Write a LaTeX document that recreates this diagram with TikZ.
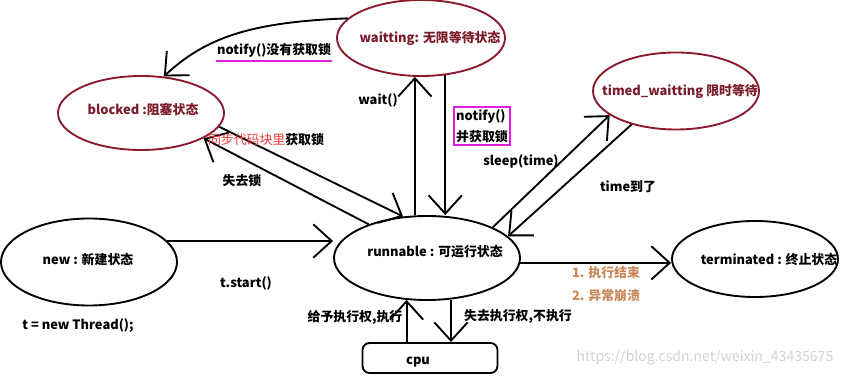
\documentclass[tikz,border=0pt]{standalone}
\usepackage{fontspec}
\setmainfont{Noto Sans CJK SC}
\usepackage{tikz}
\usetikzlibrary{positioning,shapes.geometric,arrows.meta,calc}
\definecolor{statered}{HTML}{8A1A2C}
\definecolor{nametext}{HTML}{7A1C2C}
\definecolor{hilite}{HTML}{E020E0}
\definecolor{synctext}{HTML}{F03A3A}
\definecolor{endtext}{HTML}{C8885A}
\tikzset{
  state/.style={ellipse,draw=black,line width=1.6pt,inner sep=0pt,fill=white},
  waitstate/.style={state,draw=statered},
  statename/.style={font=\fontsize{11}{13}\selectfont\bfseries,text=black,inner sep=0pt},
  waitname/.style={statename,text=nametext},
  lbl/.style={font=\fontsize{11}{13}\selectfont\bfseries,inner sep=1pt},
  flow/.style={-{Straight Barb[length=5.5mm,width=10mm]},line width=1.6pt,draw=black}
}
\begin{document}
\begin{tikzpicture}[x=0.03cm,y=-0.03cm]
\useasboundingbox (0,0) rectangle (851,377);
% Zustaende
\node[waitstate,minimum width=5.04cm,minimum height=2.28cm] (waitting) at (421,38) {};
\node[waitstate,minimum width=4.98cm,minimum height=2.22cm] (blocked) at (141,113) {};
\node[waitstate,minimum width=4.98cm,minimum height=2.31cm] (timed) at (676,91) {};
\node[state,minimum width=5.28cm,minimum height=2.61cm] (new) at (89,262) {};
\node[state,minimum width=5.58cm,minimum height=2.52cm] (runnable) at (427,258) {};
\node[state,minimum width=4.98cm,minimum height=2.28cm] (terminated) at (755,259) {};
\node[draw=black,line width=1.6pt,rounded corners=6pt,minimum width=4.05cm,minimum height=0.9cm] (cpu) at (430,358) {};

\node[waitname] (waittxt) at (430,38) {waitting: 无限等待状态};
\node[waitname] (blocktxt) at (143,109) {blocked :阻塞状态};
\node[waitname] (timedtxt) at (680,91) {timed\_waitting 限时等待};
\node[statename] (newtxt) at (88,260) {new : 新建状态};
\node[statename] (runtxt) at (435,252) {runnable : 可运行状态};
\node[statename] (termtxt) at (769,260) {terminated : 终止状态};
\node[statename] (cputxt) at (418,362) {cpu};

% Uebergaenge
\draw[flow] (waitting.165) .. controls (250,22) and (205,38) .. (blocked.58);
\node[lbl] (notifylbl) at (274,50) {notify()没有获取锁};
\draw[hilite,line width=1.6pt] ([yshift=-2pt]notifylbl.south west) -- ([yshift=-2pt]notifylbl.south east);

\draw[flow] (runnable.north -| waitting.261) -- (waitting.261);
\node[lbl] (waitlbl) at (378,100) {wait()};

\draw[flow] (waitting.303) -- (waitting.303 |- runnable.north);
\node[lbl,draw=hilite,line width=1.6pt,align=left,inner sep=2pt] (notifybox) at (482,126) {notify()\\[5pt]并获取锁};

\draw[flow] (blocked.-10) -- (runnable.120);
\draw[flow] (runnable.150) -- (blocked.-22);
\node[lbl] (synclbl) at (266,140) {\textcolor{synctext}{\mdseries 同步代码块里}获取锁};
\node[lbl] (loselbl) at (242,181) {失去锁};

\draw[flow] (runnable.25) -- (timed.200);
\node[lbl] (sleeplbl) at (521,161) {sleep(time)};
\draw[flow] (timed.217) -- (runnable.15);
\node[lbl] (timelbl) at (628,187) {time到了};

\draw[flow] (new.15) -- (new.15 -| runnable.west);
\node[lbl] (startlbl) at (246,283) {t.start()};
\node[lbl] (threadlbl) at (78,326) {t = new Thread();};

\draw[flow] (runnable.-3) -- (runnable.-3 -| terminated.west);
\node[lbl,text=endtext,align=left] (endlbl) at (606,284) {1. 执行结束\\[6pt]2. 异常崩溃};

\draw[flow] (cpu.north -| runnable.244) -- (runnable.244);
\node[lbl] (givelbl) at (355,317) {给予执行权,执行};
\draw[flow] (runnable.300) -- (runnable.300 |- cpu.north);
\node[lbl] (takelbl) at (518,316) {失去执行权,不执行};

\node[font=\fontsize{12}{14}\selectfont,text=gray!35,inner sep=0pt] (mark) at (705,358) {https://blog.csdn.net/weixin\_43435675};
\end{tikzpicture}
\end{document}
